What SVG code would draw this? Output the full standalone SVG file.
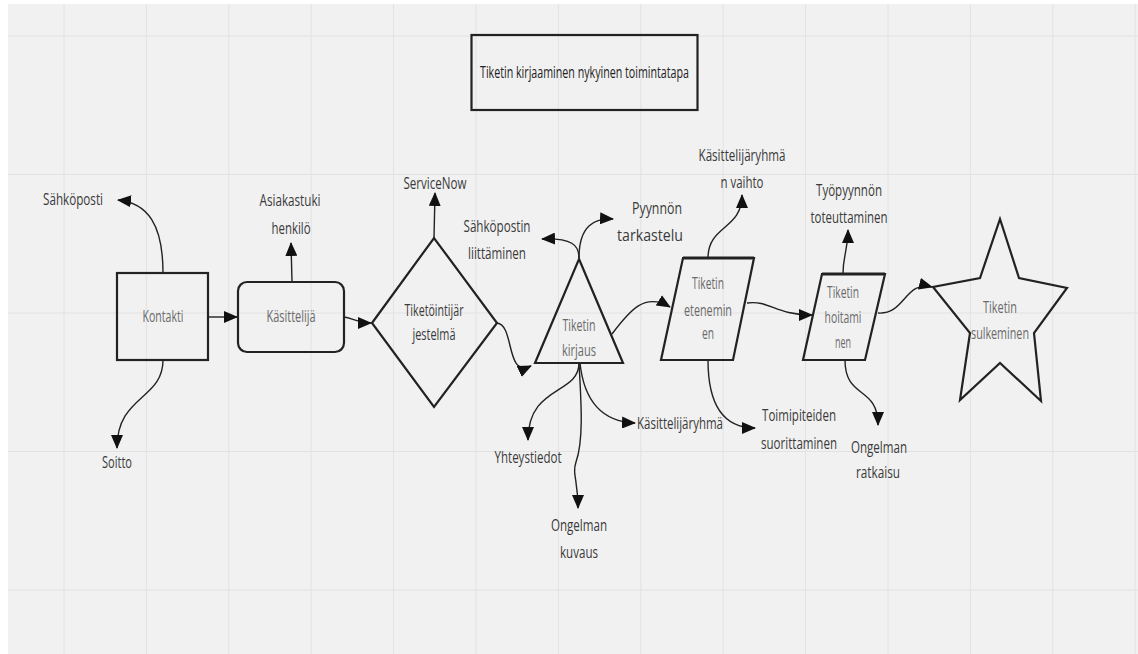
<svg xmlns="http://www.w3.org/2000/svg" width="1138" height="654" viewBox="0 0 1138 654">
<style>
.bg{fill:#f1f1f1}
.grid line{stroke:#e2e2e2;stroke-width:1}
.shape{fill:none;stroke:#222;stroke-width:2.2;stroke-linejoin:miter}
.conn path{fill:none;stroke:#222;stroke-width:1.4;marker-end:url(#arr)}
text{font-family:"Open Sans","Liberation Sans",sans-serif;font-size:17px;text-anchor:middle;fill:#3a3a3a}
.in{fill:#6a6a6a}
.ttl{fill:#222}
</style>
<defs>
<marker id="arr" markerUnits="userSpaceOnUse" markerWidth="14" markerHeight="12" viewBox="0 0 14 12" refX="13" refY="6" orient="auto">
<path d="M0,0 L14,6 L0,12 Z" fill="#111"/>
</marker>
</defs>
<rect width="1138" height="654" fill="#ffffff"/>
<rect class="bg" x="8" y="4" width="1130" height="650"/>
<g class="grid">
<line x1="64" y1="4" x2="64" y2="654"/><line x1="146.4" y1="4" x2="146.4" y2="654"/><line x1="228.8" y1="4" x2="228.8" y2="654"/><line x1="311.2" y1="4" x2="311.2" y2="654"/><line x1="393.6" y1="4" x2="393.6" y2="654"/><line x1="476" y1="4" x2="476" y2="654"/><line x1="558.4" y1="4" x2="558.4" y2="654"/><line x1="640.8" y1="4" x2="640.8" y2="654"/><line x1="723.2" y1="4" x2="723.2" y2="654"/><line x1="805.6" y1="4" x2="805.6" y2="654"/><line x1="888" y1="4" x2="888" y2="654"/><line x1="970.4" y1="4" x2="970.4" y2="654"/><line x1="1052.8" y1="4" x2="1052.8" y2="654"/><line x1="1135.2" y1="4" x2="1135.2" y2="654"/>
<line x1="8" y1="36" x2="1138" y2="36"/><line x1="8" y1="174.5" x2="1138" y2="174.5"/><line x1="8" y1="313" x2="1138" y2="313"/><line x1="8" y1="451.5" x2="1138" y2="451.5"/><line x1="8" y1="590" x2="1138" y2="590"/>
</g>
<g id="title">
<rect class="shape" x="471.5" y="35" width="226" height="75" stroke-width="2.6"/>
<text class="ttl" transform="translate(584.5 0) scale(.65 1)" x="0" y="78" textLength="321.5" lengthAdjust="spacingAndGlyphs">Tiketin kirjaaminen nykyinen toimintatapa</text>
</g>
<g class="conn" id="connectors">
<path d="M208,317 L237,317"/>
<path d="M163,273 C163,225 148,203 118,200"/>
<path d="M163,360 C163,400 117,395 117,448"/>
<path d="M292,282 L291,243"/>
<path d="M344,317 C352,318 358,323 371,323"/>
<path d="M434,238 L435,193"/>
<path d="M497,323 C515,325 505,378 531,366"/>
<path d="M579,258 C579,245 572,238 542,239"/>
<path d="M579,258 C579,225 595,218 613,219"/>
<path d="M612,334 C630,310 645,292 670,307"/>
<path d="M579,363 C579,395 528,385 528,440"/>
<path d="M579,363 C581,400 584,440 576,462 C572,474 578,480 578,508"/>
<path d="M580,363 C585,410 610,422 635,423"/>
<path d="M708,258 C708,225 742,230 742,195"/>
<path d="M708,360 C708,400 720,428 755,428"/>
<path d="M747,303 C770,300 775,315 812,315"/>
<path d="M843,274 C843,255 848,250 848,230"/>
<path d="M845,360 C845,400 878,385 878,425"/>
<path d="M878,313 C905,315 905,280 932,287"/>
</g>
<g id="kontakti">
<rect class="shape" x="117" y="273" width="91" height="87" stroke-width="2.6"/>
<text class="in" transform="translate(163 0) scale(.65 1)" x="0" y="322" textLength="63" lengthAdjust="spacingAndGlyphs">Kontakti</text>
</g>
<g id="kasittelija">
<rect class="shape" x="238" y="282" width="106" height="70" rx="9"/>
<text class="in" transform="translate(291 0) scale(.65 1)" x="0" y="322" textLength="75.4" lengthAdjust="spacingAndGlyphs">Käsittelijä</text>
</g>
<g id="tiketointijarjestelma">
<polygon class="shape" points="372,323 434,238 497,323 434,407"/>
<text transform="translate(434 0) scale(.65 1)" x="0" y="316" textLength="90.8" lengthAdjust="spacingAndGlyphs">Tiketöintijär</text>
<text transform="translate(434 0) scale(.65 1)" x="0" y="340" textLength="66.2" lengthAdjust="spacingAndGlyphs">jestelmä</text>
</g>
<g id="tiketin-kirjaus">
<polygon class="shape" points="579,259 623,363 535,363" stroke-width="2.6"/>
<text class="in" transform="translate(579 0) scale(.65 1)" x="0" y="331" textLength="50.8" lengthAdjust="spacingAndGlyphs">Tiketin</text>
<text class="in" transform="translate(579 0) scale(.65 1)" x="0" y="356" textLength="52.3" lengthAdjust="spacingAndGlyphs">kirjaus</text>
</g>
<g id="tiketin-eteneminen">
<polygon class="shape" points="683,258 754,258 733,360 661,360"/>
<line x1="683" y1="258" x2="754" y2="258" stroke="#222" stroke-width="3.2"/>
<text class="in" transform="translate(708 0) scale(.65 1)" x="0" y="289" textLength="49.2" lengthAdjust="spacingAndGlyphs">Tiketin</text>
<text class="in" transform="translate(708 0) scale(.65 1)" x="0" y="316" textLength="73.8" lengthAdjust="spacingAndGlyphs">etenemin</text>
<text class="in" transform="translate(708 0) scale(.65 1)" x="0" y="339" textLength="18.5" lengthAdjust="spacingAndGlyphs">en</text>
</g>
<g id="tiketin-hoitaminen">
<polygon class="shape" points="822,274 885,274 865,360 803,360"/>
<line x1="822" y1="274" x2="885" y2="274" stroke="#222" stroke-width="3.2"/>
<text class="in" transform="translate(843 0) scale(.65 1)" x="0" y="298" textLength="49.2" lengthAdjust="spacingAndGlyphs">Tiketin</text>
<text class="in" transform="translate(843 0) scale(.65 1)" x="0" y="323" textLength="56.9" lengthAdjust="spacingAndGlyphs">hoitami</text>
<text class="in" transform="translate(843 0) scale(.65 1)" x="0" y="348" textLength="24.6" lengthAdjust="spacingAndGlyphs">nen</text>
</g>
<g id="tiketin-sulkeminen">
<polygon class="shape" points="1000,219 1019,278 1067,288 1034,333 1041,401 1000,363 960,400 970,333 933,287 980,278"/>
<text class="in" transform="translate(1000 0) scale(.65 1)" x="0" y="313" textLength="52.3" lengthAdjust="spacingAndGlyphs">Tiketin</text>
<text class="in" transform="translate(1000 0) scale(.65 1)" x="0" y="339" textLength="89.2" lengthAdjust="spacingAndGlyphs">sulkeminen</text>
</g>
<g id="sahkoposti"><text transform="translate(73 0) scale(.65 1)" x="0" y="205" textLength="92.3" lengthAdjust="spacingAndGlyphs">Sähköposti</text></g>
<g id="soitto"><text transform="translate(117 0) scale(.65 1)" x="0" y="468" textLength="46.2" lengthAdjust="spacingAndGlyphs">Soitto</text></g>
<g id="asiakastuki"><text transform="translate(290 0) scale(.65 1)" x="0" y="206" textLength="93.8" lengthAdjust="spacingAndGlyphs">Asiakastuki</text><text transform="translate(291 0) scale(.65 1)" x="0" y="234" textLength="60" lengthAdjust="spacingAndGlyphs">henkilö</text></g>
<g id="servicenow"><text transform="translate(435 0) scale(.65 1)" x="0" y="189" textLength="96.9" lengthAdjust="spacingAndGlyphs">ServiceNow</text></g>
<g id="sahkopostin-liittaminen"><text transform="translate(497 0) scale(.65 1)" x="0" y="232" textLength="103.1" lengthAdjust="spacingAndGlyphs">Sähköpostin</text><text transform="translate(497 0) scale(.65 1)" x="0" y="259" textLength="89.2" lengthAdjust="spacingAndGlyphs">liittäminen</text></g>
<g id="pyynnon-tarkastelu"><text transform="translate(657 0) scale(.65 1)" x="0" y="214" textLength="76.9" lengthAdjust="spacingAndGlyphs">Pyynnön</text><text transform="translate(650 0) scale(.65 1)" x="0" y="241" textLength="101.5" lengthAdjust="spacingAndGlyphs">tarkastelu</text></g>
<g id="yhteystiedot"><text transform="translate(528 0) scale(.65 1)" x="0" y="463" textLength="103.1" lengthAdjust="spacingAndGlyphs">Yhteystiedot</text></g>
<g id="ongelman-kuvaus"><text transform="translate(579 0) scale(.65 1)" x="0" y="531" textLength="86.2" lengthAdjust="spacingAndGlyphs">Ongelman</text><text transform="translate(579 0) scale(.65 1)" x="0" y="558" textLength="58.5" lengthAdjust="spacingAndGlyphs">kuvaus</text></g>
<g id="kasittelijaryhma"><text transform="translate(680 0) scale(.65 1)" x="0" y="429" textLength="132.3" lengthAdjust="spacingAndGlyphs">Käsittelijäryhmä</text></g>
<g id="kasittelijaryhman-vaihto"><text transform="translate(742 0) scale(.65 1)" x="0" y="161" textLength="133.8" lengthAdjust="spacingAndGlyphs">Käsittelijäryhmä</text><text transform="translate(742 0) scale(.65 1)" x="0" y="188" textLength="66.2" lengthAdjust="spacingAndGlyphs">n vaihto</text></g>
<g id="toimipiteiden-suorittaminen"><text transform="translate(799 0) scale(.65 1)" x="0" y="421" textLength="113.8" lengthAdjust="spacingAndGlyphs">Toimipiteiden</text><text transform="translate(799 0) scale(.65 1)" x="0" y="449" textLength="116.9" lengthAdjust="spacingAndGlyphs">suorittaminen</text></g>
<g id="tyopyynnon-toteuttaminen"><text transform="translate(849 0) scale(.65 1)" x="0" y="196" textLength="101.5" lengthAdjust="spacingAndGlyphs">Työpyynnön</text><text transform="translate(849 0) scale(.65 1)" x="0" y="223" textLength="118.5" lengthAdjust="spacingAndGlyphs">toteuttaminen</text></g>
<g id="ongelman-ratkaisu"><text transform="translate(879 0) scale(.65 1)" x="0" y="453" textLength="86.2" lengthAdjust="spacingAndGlyphs">Ongelman</text><text transform="translate(878 0) scale(.65 1)" x="0" y="478" textLength="67.7" lengthAdjust="spacingAndGlyphs">ratkaisu</text></g>
</svg>
